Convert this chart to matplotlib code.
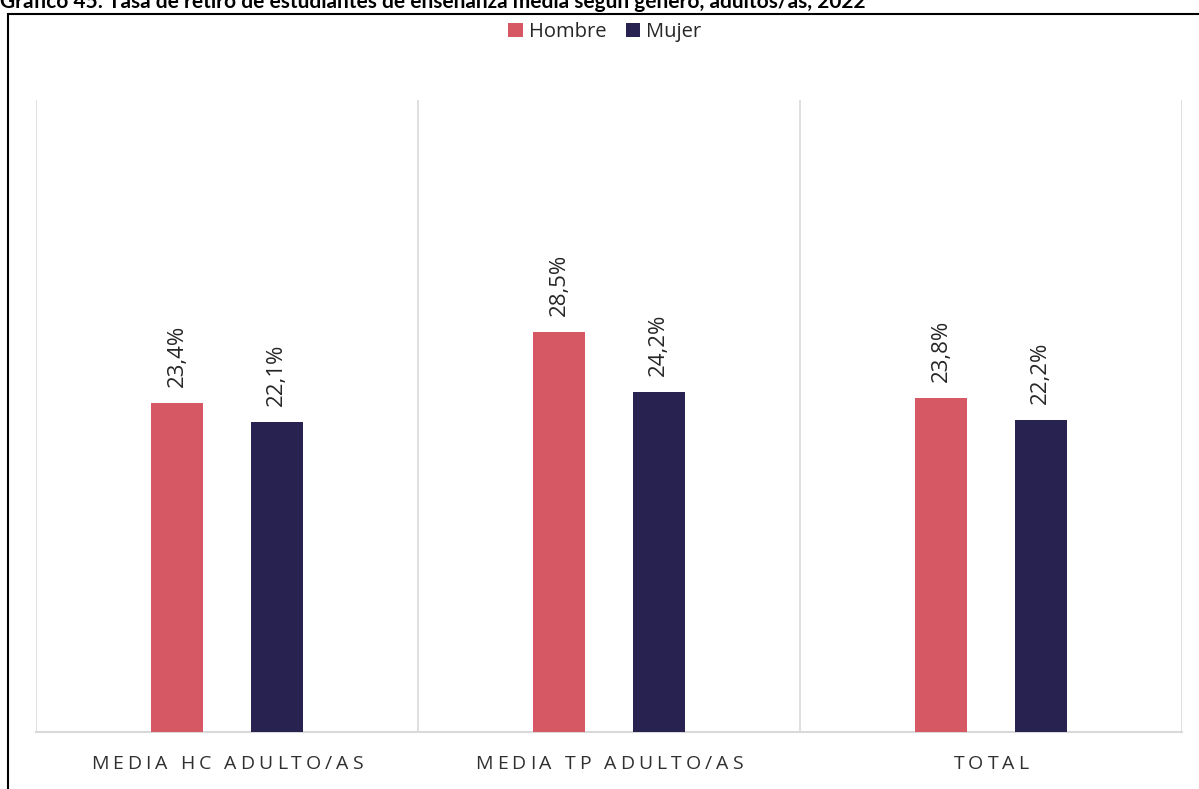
import numpy as np
import matplotlib.pyplot as plt
from matplotlib.patches import Rectangle

categorias = ['MEDIA HC ADULTO/AS', 'MEDIA TP ADULTO/AS', 'TOTAL']
hombre = [23.4, 28.5, 23.8]
mujer = [22.1, 24.2, 22.2]
series = ['Hombre', 'Mujer']
colores = ['#D65864', '#282250']
titulo = 'Gráfico 45: Tasa de retiro de estudiantes de enseñanza media según género, adultos/as, 2022'

plt.rcParams['font.family'] = ['Open Sans', 'DejaVu Sans']

W, H = 1199, 789
fig = plt.figure(figsize=(W / 100, H / 100), dpi=100)
ax = fig.add_axes([36 / W, (H - 732) / H, (1182 - 36) / W, (732 - 100) / H])

x = np.arange(len(categorias))
ancho = 0.136
off = 0.13
b1 = ax.bar(x - off, hombre, ancho, color=colores[0], label=series[0], zorder=3)
b2 = ax.bar(x + off, mujer, ancho, color=colores[1], label=series[1], zorder=3)

for barras, vals in [(b1, hombre), (b2, mujer)]:
    for b, v in zip(barras, vals):
        ax.annotate(f'{v:.1f}%'.replace('.', ','), (b.get_x() + b.get_width() / 2, v),
                    xytext=(0, 11.5), textcoords='offset points', rotation=90,
                    ha='center', va='bottom', fontsize=16, color='#262626')

ax.set_xlim(-0.5, len(categorias) - 0.5)
ax.set_ylim(0, 45)
ax.set_yticks([])
ax.set_xticks([])
for s in ['top', 'right', 'left']:
    ax.spines[s].set_visible(False)
ax.spines['bottom'].set_color('#D9D9D9')
ax.spines['bottom'].set_linewidth(1.5)
for xv in np.arange(len(categorias) + 1) - 0.5:
    ax.axvline(xv, color='#D9D9D9', lw=1.2, zorder=1)

# etiquetas de categoria con espaciado entre letras (letra por letra)
renderer = fig.canvas.get_renderer()
fs_cat = 14
esp = 4.0  # px entre letras
y_lab = 1 - 764 / H
for i, c in enumerate(categorias):
    anchos = []
    for ch in c:
        if ch == ' ':
            w = 9 - esp
        else:
            t = fig.text(0, 0, ch, fontsize=fs_cat)
            w = t.get_window_extent(renderer).width
            t.remove()
        anchos.append(w)
    total = sum(anchos) + esp * (len(c) - 1)
    cx = ax.transData.transform((i, 0))[0]
    xp = cx - total / 2
    for ch, w in zip(c, anchos):
        if ch != ' ':
            fig.text(xp / W, y_lab, ch, ha='left', va='center', fontsize=fs_cat,
                     color='#303030')
        xp += w + esp

leg = fig.legend(loc='center', bbox_to_anchor=(605 / W, 1 - 32 / H), ncol=2, frameon=False,
                 fontsize=14.5, handlelength=0.7, handleheight=0.7, handletextpad=0.3,
                 columnspacing=1.0)
for t in leg.get_texts():
    t.set_color('#262626')

# marco del grafico
fig.patches.append(Rectangle((8 / W, -0.02), 1.1, 1 - 14 / H + 0.02, transform=fig.transFigure,
                             fill=False, edgecolor='#000000', lw=1.5, zorder=0))

fig.text(0, 1 - 8 / H, titulo, ha='left', va='baseline', fontsize=15, fontweight='bold',
         color='#000000', family=['Lato', 'DejaVu Sans'])

fig.savefig('out.png', dpi=100)
